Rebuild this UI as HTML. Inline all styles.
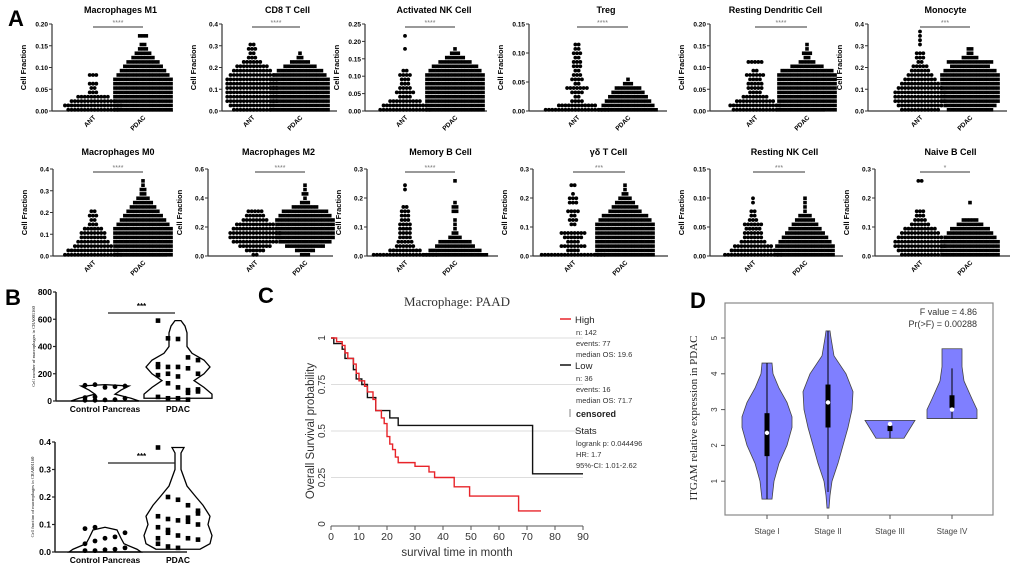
<!DOCTYPE html>
<html><head><meta charset="utf-8"><style>
html,body{margin:0;padding:0;background:#fff;}
svg{display:block;font-family:"Liberation Sans",sans-serif;}
</style></head><body>
<svg id="fig" width="1020" height="573" viewBox="0 0 1020 573" xmlns="http://www.w3.org/2000/svg"></svg>
<script>
// ---------- Panel A data ----------
const aTitles = ["Macrophages M1","CD8 T Cell","Activated NK Cell","Treg","Resting Dendritic Cell","Monocyte","Macrophages M0","Macrophages M2","Memory B Cell","γδ T Cell","Resting NK Cell","Naive B Cell"];
const aYMax = [0.2,0.4,0.25,0.15,0.2,0.4,0.4,0.6,0.3,0.3,0.15,0.3];
const aTickStep = [0.05,0.1,0.05,0.05,0.05,0.1,0.1,0.2,0.1,0.1,0.05,0.1];
const aDecimals = [2,1,2,2,2,1,1,1,1,1,2,1];
const aSig = ["****","****","****","****","****","***","****","****","****","***","***","*"];
const aAntCounts = [
 [16,18,14,10,3,2,3,0,3],
 [12,14,16,16,16,16,16,16,14,12,10,6,3,2,3,2],
 [16,14,10,4,6,4,3,3,4,2,0,0,0,0,1,0,0,1],
 [20,12,4,2,4,7,2,4,3,2,3,3,2,3,2,2],
 [14,16,12,8,4,5,5,4,6,2,0,5],
 [12,14,16,16,16,14,12,10,8,6,5,2,3,3,0,1,1,1,1],
 [18,16,12,10,8,8,6,3,2,3,2],
 [2,6,10,14,16,16,14,12,8,6,5],
 [20,10,6,5,4,4,4,4,3,3,3,2,0,0,0,1,1],
 [20,4,8,4,6,8,0,2,3,2,4,0,3,3,1,0,2],
 [18,14,12,8,6,6,5,6,3,2,2,0,1,1],
 [12,14,16,16,14,12,10,6,4,3,3,0,0,0,0,0,0,2]
];
const aPdacCounts = [
 [18,18,18,18,18,18,18,18,16,14,12,10,7,5,3,2,0,3],
 [18,18,18,18,18,18,18,18,16,14,10,6,2,1],
 [18,18,18,18,18,18,18,18,18,16,14,10,6,3,1],
 [18,16,14,12,10,8,3,1],
 [18,18,18,18,18,18,18,18,18,16,10,5,2,3,1,1],
 [14,16,18,18,18,18,18,18,18,16,12,14,5,2,2],
 [18,18,18,18,18,18,18,16,14,12,10,8,6,4,2,2,1,1],
 [3,6,12,16,18,18,18,18,18,16,14,8,3,1,2,1,1],
 [20,16,12,10,4,2,1,1,1,0,2,2,1,0,0,0,0,1],
 [18,18,18,18,18,18,18,18,16,14,10,8,6,4,2,1,1],
 [18,18,18,16,14,12,10,8,6,4,1,1,1,1],
 [18,18,18,18,16,14,12,8,5,0,0,0,1]
];
// ---------- Panel B data ----------
const bTopCtrlLevels = [0,20,50,80,110,120];
const bTopCtrlHalfW = [34,26,10,16,24,0];
const bTopPdacLevels = [20,50,100,150,200,250,300,350,400,450,500,550,590];
const bTopPdacHalfW = [34,34,26,16,26,32,26,14,9,9,9,7,3];
const bTopCtrlPts = [5,5,8,10,20,25,30,100,105,110,115,120];
const bTopPdacPts = [590,460,455,320,300,270,250,250,240,200,190,130,100,80,70,30,20,20,10,85,250,200,180,60];
const bBotCtrlLevels = [0,0.01,0.03,0.05,0.08,0.09];
const bBotCtrlHalfW = [36,32,19,16,12,0];
const bBotPdacLevels = [0.01,0.03,0.06,0.1,0.13,0.17,0.2,0.24,0.3,0.36,0.38];
const bBotPdacHalfW = [22,32,34,30,32,25,18,9,3,3,6];
const bBotCtrlPts = [0.005,0.005,0.008,0.01,0.015,0.03,0.04,0.05,0.055,0.07,0.085,0.09];
const bBotPdacPts = [0.38,0.2,0.19,0.17,0.15,0.13,0.12,0.115,0.11,0.1,0.09,0.08,0.06,0.05,0.045,0.03,0.02,0.015,0.125,0.14,0.05,0.07];
// ---------- Panel C data ----------
const kmXTicks = [0,10,20,30,40,50,60,70,80,90];
const kmYTicks = [0,0.25,0.5,0.75,1];
const highT = [0,2,4,5,6,8,9,10,12,13,15,16,18,19,20,21,22,23,24,30,35,37,44,49.5,67,75];
const highS = [1,0.98,0.96,0.92,0.89,0.86,0.81,0.77,0.74,0.71,0.67,0.61,0.57,0.54,0.47,0.43,0.4,0.36,0.33,0.31,0.28,0.25,0.2,0.15,0.07,0.07];
const lowT = [0,1,4,5,8,9,11,13,16,21,24,72,90];
const lowS = [1,0.97,0.94,0.89,0.83,0.78,0.75,0.68,0.61,0.57,0.53,0.27,0.27];
// ---------- Panel D data ----------
const dStages = ["Stage I","Stage II","Stage III","Stage IV"];
const dLevels = [[0.5,1,1.5,2,2.5,2.8,3.2,3.6,4,4.3],[0.25,0.6,1,1.5,2,2.5,3,3.5,4,4.5,5,5.2],[2.2,2.7],[2.75,3,3.3,3.8,4.2,4.7]];
const dHalfW = [[5,7,12,20,25,25,20,12,6,5],[1,2,4,10,15,20,24,25,18,6,3,2],[14,25],[25,25,20,12,10,10]];
const dQ1 = [1.7,2.5,2.4,3.05];
const dQ3 = [2.9,3.7,2.55,3.4];
const dMed = [2.35,3.2,2.6,3.0];
const dWLo = [0.5,0.7,2.2,2.75];
const dWHi = [4.3,5.2,2.6,4.15];
const dYTicks = [1,2,3,4,5];

const NS="http://www.w3.org/2000/svg";
const svg=document.getElementById('fig');
function mk(tag,attrs,parent){const e=document.createElementNS(NS,tag);for(const k in attrs)e.setAttribute(k,attrs[k]);(parent||svg).appendChild(e);return e;}
function txt(x,y,s,attrs,parent){const e=mk('text',Object.assign({x:x,y:y},attrs),parent);e.textContent=s;return e;}

const letters=[["A",8,26],["B",5,305],["C",258,303],["D",690,308]];
for(const L of letters){
 const t=txt(L[1],L[2],L[0],{'font-size':22,'font-weight':'bold'});
 
 
}

// ---------- Panel A ----------
const aAxX=[52,222,365,529,710,868,53,208,367,533,710,875];
const aAxR=[173,337,487,667,825,1007,167,333,498,668,843,1010];
const aAntX=[93,252,405,577,755,920,93,255,405,573,753,920];
const aPdacX=[143,300,455,628,807,970,143,305,455,625,805,970];
for(let p=0;p<12;p++){
 const g=mk('g',{});
 
 
 const row=p<6?0:1;
 const top=row?169:24, bot=row?256:111;
 const ax=aAxX[p], ar=aAxR[p];
 const ys=v=>bot-(v/aYMax[p])*(bot-top);
 const t=txt((ax+ar)/2+8,row?155:13,aTitles[p],{'font-size':9,'font-weight':'bold','text-anchor':'middle'},g);
 
 
 const yl=mk('line',{x1:ax,y1:top,x2:ax,y2:bot,stroke:'#333','stroke-width':1.2},g);
 
 
 const xl=mk('line',{x1:ax,y1:bot,x2:ar,y2:bot,stroke:'#333','stroke-width':1.2},g);
 
 
 const nt=Math.round(aYMax[p]/aTickStep[p]);
 for(let i=0;i<=nt;i++){
  const v=i*aTickStep[p];
  const tk=mk('line',{x1:ax-3,y1:ys(v),x2:ax,y2:ys(v),stroke:'#333'},g);
  
  
  const tl=txt(ax-4,ys(v)+2.5,v.toFixed(aDecimals[p]),{'font-size':6.5,'font-weight':'bold','text-anchor':'end'},g);
  
  
 }
 const yt=txt(0,0,"Cell Fraction",{'font-size':7.5,'font-weight':'bold','text-anchor':'middle',transform:`translate(${ax-26},${(top+bot)/2}) rotate(-90)`},g);
 
 
 const groups=[[aAntX[p],"ANT",aAntCounts[p],'circle'],[aPdacX[p],"PDAC",aPdacCounts[p],'square']];
 for(const gr of groups){
  const lab=txt(0,0,gr[1],{'font-size':6.5,'font-weight':'bold','text-anchor':'end',transform:`translate(${gr[0]+3},${bot+7}) rotate(-45)`},g);
  
  
  const step=aYMax[p]/20;
  gr[2].forEach((n,i)=>{
   const y=ys(i*step);
   for(let j=0;j<n;j++){
    const x=gr[0]+(j-(n-1)/2)*3.3;
    let d;
    if(gr[3]==='circle') d=mk('circle',{cx:x,cy:y-1.2,r:1.9,fill:'#000'},g);
    else d=mk('rect',{x:x-1.8,y:y-3,width:3.6,height:3.6,fill:'#000'},g);
    
    
   }
  });
 }
 const sy=row?172:27;
 const sl=mk('line',{x1:aAntX[p],y1:sy,x2:aPdacX[p],y2:sy,stroke:'#333','stroke-width':1},g);
 
 
 const st=txt((aAntX[p]+aPdacX[p])/2,sy-2,aSig[p],{'font-size':7,fill:'#777','text-anchor':'middle'},g);
 
 
}

// ---------- Panel B ----------
function violinPath(cx,levels,hw,ys){
 let l='',r='';
 for(let i=0;i<levels.length;i++){l+=(i?'L':'M')+(cx-hw[i])+','+ys(levels[i]);}
 for(let i=levels.length-1;i>=0;i--){r+='L'+(cx+hw[i])+','+ys(levels[i]);}
 return l+r+'Z';
}
function bPanel(name,top,bot,ax,ar,vmax,tickStep,dec,ylabel,cL,cW,pL,pW,cPts,pPts){
 const g=mk('g',{});
 
 
 const ys=v=>bot-v/vmax*(bot-top);
 const cx=105,px=178;
 const yl=mk('line',{x1:ax,y1:top,x2:ax,y2:bot,stroke:'#222','stroke-width':1.5},g);
 
 
 const xl=mk('line',{x1:ax,y1:bot,x2:ar,y2:bot,stroke:'#222','stroke-width':1.5},g);
 
 
 const n=Math.round(vmax/tickStep);
 for(let i=0;i<=n;i++){
  const v=i*tickStep;
  const tk=mk('line',{x1:ax-3,y1:ys(v),x2:ax,y2:ys(v),stroke:'#222','stroke-width':1.2},g);
  
  
  const tl=txt(ax-4,ys(v)+3,v.toFixed(dec),{'font-size':8.5,'font-weight':'bold','text-anchor':'end'},g);
  
  
 }
 const yt=txt(0,0,ylabel,{'font-size':4.5,'font-family':'Liberation Serif, serif','text-anchor':'middle',transform:`translate(${ax-21},${(top+bot)/2}) rotate(-90)`},g);
 
 
 const v1=mk('path',{d:violinPath(cx,cL,cW,ys),fill:'none',stroke:'#000','stroke-width':1.3},g);
 
 
 const v2=mk('path',{d:violinPath(px,pL,pW,ys),fill:'none',stroke:'#000','stroke-width':1.3},g);
 
 
 cPts.forEach((v,i)=>{
  const x=cx+((i%5)-2)*10;
  const c=mk('circle',{cx:x,cy:ys(v),r:2.4,fill:'#000'},g);
  
  
 });
 pPts.forEach((v,i)=>{
  const x=px+((i%5)-2)*10;
  const c=mk('rect',{x:x-2.3,y:ys(v)-2.3,width:4.6,height:4.6,fill:'#000'},g);
  
  
 });
 const l1=txt(cx,bot+11,"Control Pancreas",{'font-size':8.5,'font-weight':'bold','text-anchor':'middle'},g);
 
 
 const l2=txt(px,bot+11,"PDAC",{'font-size':8.5,'font-weight':'bold','text-anchor':'middle'},g);
 
 
 const sy=top+21;
 const sl=mk('line',{x1:cx+3,y1:sy,x2:px-3,y2:sy,stroke:'#222','stroke-width':1.2},g);
 
 
 const st=txt((cx+px)/2,sy-4,"***",{'font-size':8,'font-weight':'bold','text-anchor':'middle'},g);
 
 
}
bPanel('violin-cell-number',292,401,56,187,800,200,0,"Cell number of macrophages in CRA001160",bTopCtrlLevels,bTopCtrlHalfW,bTopPdacLevels,bTopPdacHalfW,bTopCtrlPts,bTopPdacPts);
bPanel('violin-cell-fraction',442,552,55,187,0.4,0.1,1,"Cell fraction of macrophages in CRA001160",bBotCtrlLevels,bBotCtrlHalfW,bBotPdacLevels,bBotPdacHalfW,bBotCtrlPts,bBotPdacPts);

// ---------- Panel C ----------
(function(){
 const g=mk('g',{});
 
 
 const x0=331,x1=583,yTop=338,yBot=524;
 const xs=t=>x0+t/90*(x1-x0);
 const ys=s=>yBot-s*(yBot-yTop);
 const tt=txt(457,306,"Macrophage: PAAD",{'font-size':13,'font-family':'Liberation Serif, serif','text-anchor':'middle',fill:'#333'},g);
 
 
 kmYTicks.forEach(v=>{
  if(v>0){
   const gl=mk('line',{x1:x0,y1:ys(v),x2:x1,y2:ys(v),stroke:'#ddd','stroke-width':1},g);
   
   
  }
  const tl=txt(0,0,String(v),{'font-size':10,'text-anchor':'middle',fill:'#333',transform:`translate(${x0-6},${ys(v)}) rotate(-90)`},g);
  
  
 });
 const ax=mk('line',{x1:x0,y1:yBot+2,x2:x1,y2:yBot+2,stroke:'#555','stroke-width':1},g);
 
 
 kmXTicks.forEach(v=>{
  const tk=mk('line',{x1:xs(v),y1:yBot+2,x2:xs(v),y2:yBot+6,stroke:'#555'},g);
  
  
  const tl=txt(xs(v),yBot+16,String(v),{'font-size':10.5,'text-anchor':'middle',fill:'#333'},g);
  
  
 });
 const xt=txt(457,556,"survival time in month",{'font-size':11.5,'text-anchor':'middle',fill:'#333'},g);
 
 
 const yt=txt(0,0,"Overall Survival probability",{'font-size':11.5,'text-anchor':'middle',fill:'#333',transform:`translate(314,${(yTop+yBot)/2}) rotate(-90)`},g);
 
 
 function step(T,S){let d='M'+xs(T[0])+','+ys(S[0]);for(let i=1;i<T.length;i++){d+='H'+xs(T[i])+'V'+ys(S[i]);}return d;}
 const lo=mk('path',{d:step(lowT,lowS),fill:'none',stroke:'#111','stroke-width':1.4},g);
 
 
 const hi=mk('path',{d:step(highT,highS),fill:'none',stroke:'#e8242a','stroke-width':1.4},g);
 
 
 const lx=563;
 const leg=[["High",'#e8242a',323,["n: 142","events: 77","median OS: 19.6"]],["Low",'#111',369,["n: 36","events: 16","median OS: 71.7"]]];
 leg.forEach(L=>{
  const ll=mk('line',{x1:lx-3,y1:L[2]-4,x2:lx+8,y2:L[2]-4,stroke:L[1],'stroke-width':1.5},g);
  
  
  const lt=txt(lx+12,L[2],L[0],{'font-size':9.5,fill:'#222'},g);
  
  
  L[3].forEach((s,i)=>{
   const e=txt(lx+13,L[2]+12+i*11,s,{'font-size':7.5,fill:'#333'},g);
   
   
  });
 });
 const cm=mk('line',{x1:lx+7,y1:409,x2:lx+7,y2:417,stroke:'#999','stroke-width':1.2},g);
 
 
 const ct=txt(lx+13,417,"censored",{'font-size':9,'font-weight':'bold',fill:'#222'},g);
 
 
 const sh=txt(lx+12,434,"Stats",{'font-size':9.5,fill:'#222'},g);
 
 
 ["logrank p: 0.044496","HR: 1.7","95%-CI: 1.01-2.62"].forEach((s,i)=>{
  const e=txt(lx+13,446+i*11,s,{'font-size':7.5,fill:'#333'},g);
  
  
 });
})();

// ---------- Panel D ----------
(function(){
 const g=mk('g',{});
 
 
 const L=725,T=303,R=993,B=515;
 const ys=v=>517-v*35.8;
 const xpos=[767,828,890,952];
 const fr=mk('rect',{x:L,y:T,width:R-L,height:B-T,fill:'none',stroke:'#888','stroke-width':1.2},g);
 
 
 dYTicks.forEach(v=>{
  const tk=mk('line',{x1:L-4,y1:ys(v),x2:L,y2:ys(v),stroke:'#555'},g);
  
  
  const tl=txt(0,0,String(v),{'font-size':8,'text-anchor':'middle',fill:'#333',transform:`translate(${L-8},${ys(v)}) rotate(-90)`},g);
  
  
 });
 const yt=txt(0,0,"ITGAM relative expression in PDAC",{'font-size':11,'font-family':'Liberation Serif, serif','text-anchor':'middle',fill:'#222',transform:`translate(697,418) rotate(-90)`},g);
 
 
 const f1=txt(977,315,"F value = 4.86",{'font-size':9,'text-anchor':'end',fill:'#333'},g);
 
 
 const f2=txt(977,327,"Pr(>F) = 0.00288",{'font-size':9,'text-anchor':'end',fill:'#333'},g);
 
 
 dStages.forEach((s,i)=>{
  const cx=xpos[i];
  const v=mk('path',{d:violinPath(cx,dLevels[i],dHalfW[i],ys),fill:'#7f7fff',stroke:'#444','stroke-width':0.8},g);
  
  
  const w=mk('line',{x1:cx,y1:ys(dWLo[i]),x2:cx,y2:ys(dWHi[i]),stroke:'#000','stroke-width':1},g);
  
  
  const b=mk('rect',{x:cx-2.5,y:ys(dQ3[i]),width:5,height:ys(dQ1[i])-ys(dQ3[i]),fill:'#000'},g);
  
  
  const m=mk('circle',{cx:cx,cy:ys(dMed[i]),r:2.2,fill:'#fff'},g);
  
  
  const tk=mk('line',{x1:cx,y1:B,x2:cx,y2:B+4,stroke:'#555'},g);
  
  
  const tl=txt(cx,B+19,s,{'font-size':8,'text-anchor':'middle',fill:'#444'},g);
  
  
 });
})();
</script>
</body></html>
